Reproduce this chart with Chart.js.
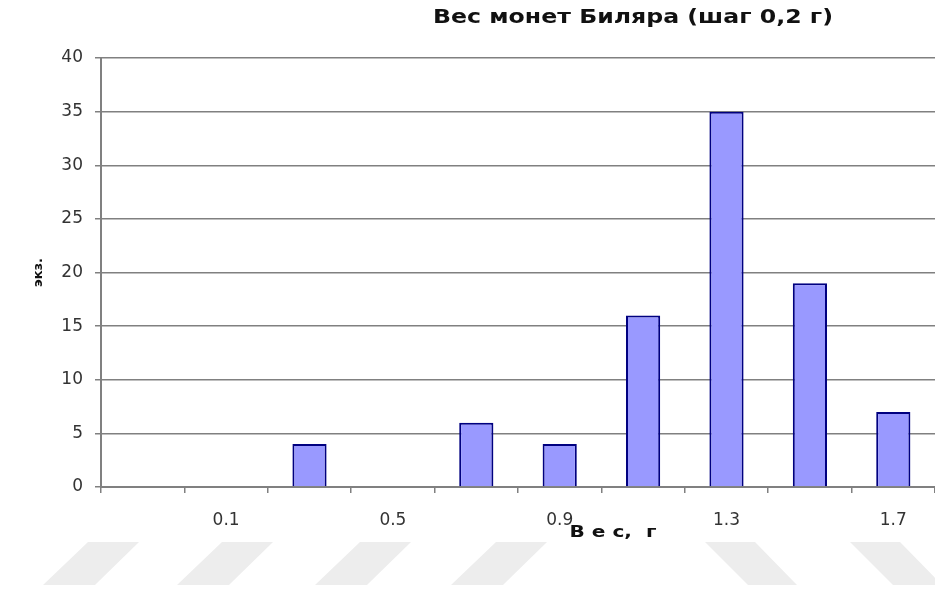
<!DOCTYPE html>
<html>
<head>
<meta charset="utf-8">
<script src="https://cdn.jsdelivr.net/npm/chart.js@4/dist/chart.umd.min.js"></script>
<style>
  html, body { margin: 0; padding: 0; background: #fff; }
  #wrap { width: 935px; height: 590px; position: relative; }
</style>
</head>
<body>
<div id="wrap"><canvas id="coins"></canvas></div>
<script>
// bins of 0.2 g, labelled by the bin centre
const weightLabels = ["-0.1", "0.1", "0.3", "0.5", "0.7", "0.9", "1.1", "1.3", "1.5", "1.7"];
const coinCounts = [0, 0, 4, 0, 6, 4, 16, 35, 19, 7];
const yTicks = [0, 5, 10, 15, 20, 25, 30, 35, 40];

const chartTitle = "Вес монет Биляра (шаг 0,2 г)";
const xTitle = "В е с,  г";
const yTitle = "экз.";

// light grey diagonal watermark band at the bottom of the picture
const stripes = {
  id: "stripes",
  beforeDraw(chart) {
    const ctx = chart.ctx;
    ctx.save();
    ctx.fillStyle = "#ededed";
    const top = 542, bot = 585;
    [88, 222, 360, 496].forEach((x) => {
      ctx.beginPath();
      ctx.moveTo(x, top);
      ctx.lineTo(x + 51, top);
      ctx.lineTo(x + 7, bot);
      ctx.lineTo(x - 45, bot);
      ctx.closePath();
      ctx.fill();
    });
    [705, 850].forEach((x) => {
      ctx.beginPath();
      ctx.moveTo(x, top);
      ctx.lineTo(x + 50, top);
      ctx.lineTo(x + 92, bot);
      ctx.lineTo(x + 43, bot);
      ctx.closePath();
      ctx.fill();
    });
    ctx.restore();
  },
};

// draw text stretched to a given width (the original picture is widened)
function wideText(ctx, text, cx, cy, width) {
  const w = ctx.measureText(text).width;
  ctx.save();
  ctx.translate(cx, cy);
  ctx.scale(width / w, 1);
  ctx.fillText(text, 0, 0);
  ctx.restore();
}

const labels = {
  id: "labels",
  afterDraw(chart) {
    const ctx = chart.ctx;
    ctx.save();
    ctx.fillStyle = "#111";
    ctx.textAlign = "center";
    ctx.textBaseline = "middle";
    ctx.font = "bold 20px 'DejaVu Sans'";
    wideText(ctx, chartTitle, 633, 18, 400);
    ctx.font = "bold 15px 'DejaVu Sans'";
    wideText(ctx, xTitle, 613, 533, 87);
    ctx.restore();
  },
};

new Chart(document.getElementById("coins"), {
  type: "bar",
  data: {
    labels: weightLabels,
    datasets: [
      {
        data: coinCounts,
        backgroundColor: "#9999ff",
        borderColor: "#000080",
        borderWidth: 2,
        barPercentage: 0.41,
        categoryPercentage: 1,
      },
    ],
  },
  options: {
    responsive: true,
    maintainAspectRatio: false,
    animation: false,
    layout: { padding: { top: 58, right: -3, bottom: 0, left: 0 } },
    plugins: {
      legend: { display: false },
      tooltip: { enabled: false },
      title: { display: false },
    },
    scales: {
      x: {
        afterFit: (scale) => { scale.height = 103; },
        grid: {
          drawOnChartArea: false,
          drawTicks: true,
          tickLength: 6,
          color: "#808080",
          lineWidth: 1.5,
        },
        border: { color: "#808080", width: 2 },
        ticks: {
          autoSkip: false,
          maxRotation: 0,
          padding: 17,
          color: "#333",
          font: { family: "'DejaVu Sans'", size: 17 },
          callback: (v, i) => (i % 2 === 1 ? weightLabels[i] : ""),
        },
      },
      y: {
        min: yTicks[0],
        max: yTicks[yTicks.length - 1],
        afterFit: (scale) => { scale.width = 101; },
        afterBuildTicks: (scale) => { scale.ticks = yTicks.map((v) => ({ value: v })); },
        grid: {
          color: "#808080",
          lineWidth: 1.5,
          tickLength: 6,
        },
        border: { color: "#808080", width: 2 },
        ticks: {
          padding: 12,
          color: "#333",
          font: { family: "'DejaVu Sans'", size: 17 },
        },
        title: {
          display: true,
          text: yTitle,
          color: "#111",
          font: { family: "'DejaVu Sans'", size: 13, weight: "bold" },
          padding: { top: 31, bottom: 0 },
        },
      },
    },
  },
  plugins: [stripes, labels],
});
</script>
</body>
</html>
